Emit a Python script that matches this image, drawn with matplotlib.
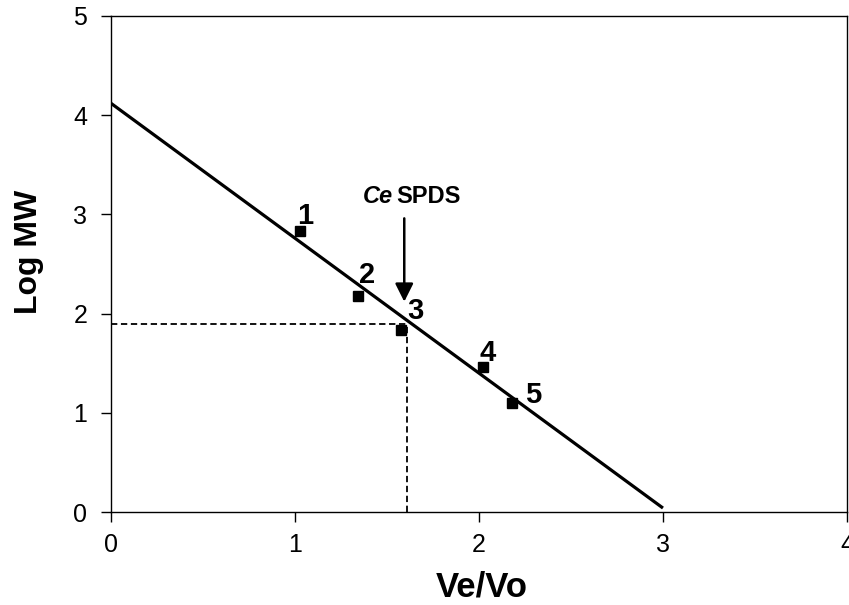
import matplotlib
matplotlib.use("Agg")
import matplotlib.pyplot as plt

plt.rcParams['font.family'] = ['Liberation Sans', 'DejaVu Sans']

# Data
std_x = [1.03, 1.34, 1.575, 2.02, 2.18]
std_y = [2.83, 2.18, 1.83, 1.465, 1.10]
std_labels = ["1", "2", "3", "4", "5"]
fit_x = [0.0, 3.0]
fit_y = [4.12, 0.04]
sample_x = 1.61
sample_y = 1.90
xticks = [0, 1, 2, 3, 4]
yticks = [0, 1, 2, 3, 4, 5]

fig = plt.figure(figsize=(8.49, 6.05), dpi=100)
ax = fig.add_axes([0.1307, 0.1537, 0.8669, 0.8199])

ax.plot(fit_x, fit_y, color='black', lw=2.3, solid_capstyle='butt', zorder=3)
ax.plot(std_x, std_y, 's', color='black', markersize=7.2, zorder=4)

label_off = [(0.024, 0.18), (0.053, 0.24), (0.081, 0.23), (0.025, 0.17), (0.115, 0.11)]
for x, y, t, (dx, dy) in zip(std_x, std_y, std_labels, label_off):
    ax.text(x + dx, y + dy, t, fontsize=21, fontweight='bold', ha='center',
            va='center_baseline', zorder=5)

ax.plot([0, sample_x], [sample_y, sample_y], color='black', lw=1.3, ls=(0, (3.5, 2)), zorder=2)
ax.plot([sample_x, sample_x], [0, sample_y], color='black', lw=1.3, ls=(0, (3.5, 2)), zorder=2)

ax.annotate("", xy=(1.594, 2.12), xytext=(1.594, 2.96),
            arrowprops=dict(arrowstyle='-|>,head_length=1.1,head_width=0.55', color='black', lw=1.8,
                            shrinkA=0, shrinkB=0))
ax.text(1.53, 3.18, "Ce", fontsize=17, fontweight='bold', style='italic', ha='right', va='center')
ax.text(1.55, 3.18, "SPDS", fontsize=17, fontweight='bold', ha='left', va='center')

ax.set_xlim(0, 4)
ax.set_ylim(0, 5)
ax.set_xticks(xticks)
ax.set_yticks(yticks)
ax.tick_params(axis='both', direction='out', length=7, width=1, labelsize=18)
ax.tick_params(axis='y', pad=10)
ax.tick_params(axis='x', pad=8)
for s in ax.spines.values():
    s.set_linewidth(1.0)

fig.text(482 / 849, 0.002, "Ve/Vo", fontsize=25, fontweight='bold',
         ha='center', va='bottom')
fig.text(37 / 849, (605 - 252) / 605, "Log MW", fontsize=23, fontweight='bold',
         ha='center', va='baseline', rotation=90, rotation_mode='anchor')

fig.savefig("out.png", dpi=100)
